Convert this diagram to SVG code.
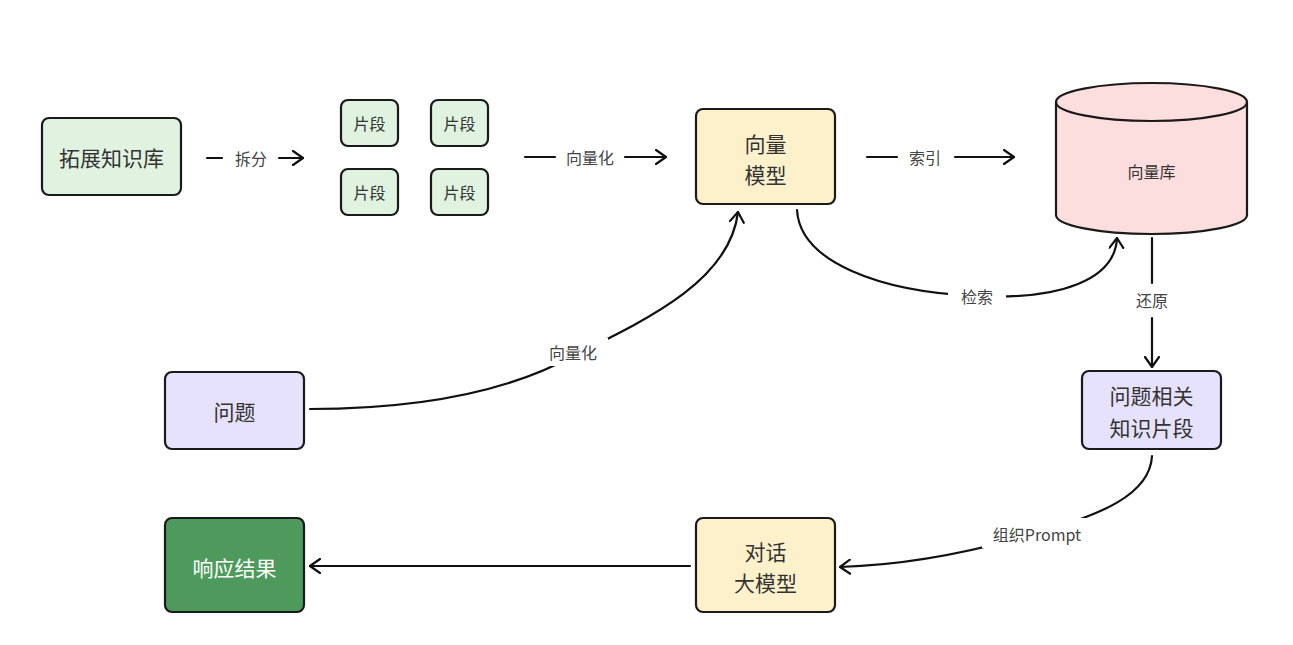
<svg xmlns="http://www.w3.org/2000/svg" width="1293" height="645" viewBox="0 0 1293 645">
<defs>
<marker id="arr" viewBox="0 0 12 16" refX="11" refY="8" markerWidth="12" markerHeight="16" markerUnits="userSpaceOnUse" orient="auto">
<path d="M1,1 L11,8 L1,15" fill="none" stroke="#111" stroke-width="2.2" stroke-linecap="round" stroke-linejoin="round"/>
</marker>
<style>
.n{stroke:#1a1a1a;stroke-width:2.2}
.g{fill:#dff3e0}
.y{fill:#fdf1cc}
.p{fill:#e6e2fb}
.t{font-family:"Noto Sans CJK SC","Noto Sans",sans-serif;fill:#333;text-anchor:middle;dominant-baseline:central}
.big{font-size:21px}
.sm{font-size:16px}
.lb{font-family:"Noto Sans CJK SC","Noto Sans",sans-serif;font-size:16px;fill:#444;text-anchor:middle;dominant-baseline:central}
.c{fill:none;stroke:#111;stroke-width:2.2;stroke-linecap:round}
</style>
</defs>
<rect width="1293" height="645" fill="#fff"/>

<g id="connectors">
<line class="c" x1="207" y1="158" x2="222" y2="158"/>
<line class="c" x1="279" y1="158" x2="303" y2="158" marker-end="url(#arr)"/>
<text class="lb" x="251" y="158">拆分</text>

<line class="c" x1="525" y1="157" x2="555" y2="157"/>
<line class="c" x1="625" y1="157" x2="666" y2="157" marker-end="url(#arr)"/>
<text class="lb" x="590" y="157">向量化</text>

<line class="c" x1="867" y1="157" x2="897" y2="157"/>
<line class="c" x1="955" y1="157" x2="1014" y2="157" marker-end="url(#arr)"/>
<text class="lb" x="925" y="157">索引</text>

<path class="c" d="M310,409 C450,409 530,380 575,355 C650,318 730,280 738,212" marker-end="url(#arr)"/>
<rect x="538" y="338" width="70" height="28" fill="#fff"/>
<text class="lb" x="573" y="352">向量化</text>

<path class="c" d="M797,210 C800,262 880,292 977,296 C1060,300 1115,280 1117,238" marker-end="url(#arr)"/>
<rect x="948" y="282" width="58" height="28" fill="#fff"/>
<text class="lb" x="977" y="296">检索</text>

<line class="c" x1="1152" y1="238" x2="1152" y2="283"/>
<line class="c" x1="1152" y1="318" x2="1152" y2="367" marker-end="url(#arr)"/>
<text class="lb" x="1152" y="300">还原</text>

<path class="c" d="M1152,456 C1150,495 1100,515 1037,533 C980,550 910,565 840,567" marker-end="url(#arr)"/>
<rect x="982" y="518" width="110" height="30" fill="#fff"/>
<text class="lb" x="1037" y="534">组织Prompt</text>

<line class="c" x1="690" y1="566" x2="310" y2="566" marker-end="url(#arr)"/>
</g>

<g id="kb">
<rect class="n g" x="42" y="118" width="139" height="77" rx="7"/>
<text class="t big" x="111.5" y="157">拓展知识库</text>
</g>
<g id="seg1">
<rect class="n g" x="341" y="100" width="57" height="46" rx="7"/>
<text class="t sm" x="369.5" y="123">片段</text>
</g>
<g id="seg2">
<rect class="n g" x="431" y="100" width="57" height="46" rx="7"/>
<text class="t sm" x="459.5" y="123">片段</text>
</g>
<g id="seg3">
<rect class="n g" x="341" y="169" width="57" height="46" rx="7"/>
<text class="t sm" x="369.5" y="192">片段</text>
</g>
<g id="seg4">
<rect class="n g" x="431" y="169" width="57" height="46" rx="7"/>
<text class="t sm" x="459.5" y="192">片段</text>
</g>
<g id="embed">
<rect class="n y" x="696" y="109" width="139" height="95" rx="7"/>
<text class="t big" x="765.5" y="143">向量</text>
<text class="t big" x="765.5" y="174">模型</text>
</g>
<g id="vdb">
<path class="n" fill="#fddede" d="M1056,102 L1056,215 A95.5,19 0 0 0 1247,215 L1247,102 A95.5,19 0 0 0 1056,102 Z"/>
<path class="n" fill="none" d="M1056,102 A95.5,19 0 0 0 1247,102"/>
<text class="t" style="font-size:16px" x="1151.5" y="171">向量库</text>
</g>
<g id="question">
<rect class="n p" x="165" y="372" width="139" height="77" rx="7"/>
<text class="t big" x="234.5" y="411">问题</text>
</g>
<g id="related">
<rect class="n p" x="1082" y="371" width="139" height="78" rx="7"/>
<text class="t big" x="1151.5" y="395">问题相关</text>
<text class="t big" x="1151.5" y="427">知识片段</text>
</g>
<g id="result">
<rect class="n" fill="#4e9a5c" x="165" y="518" width="139" height="94" rx="7"/>
<text class="t big" style="fill:#fff" x="234.5" y="567">响应结果</text>
</g>
<g id="llm">
<rect class="n y" x="696" y="518" width="139" height="94" rx="7"/>
<text class="t big" x="765.5" y="551">对话</text>
<text class="t big" x="765.5" y="582">大模型</text>
</g>
</svg>
